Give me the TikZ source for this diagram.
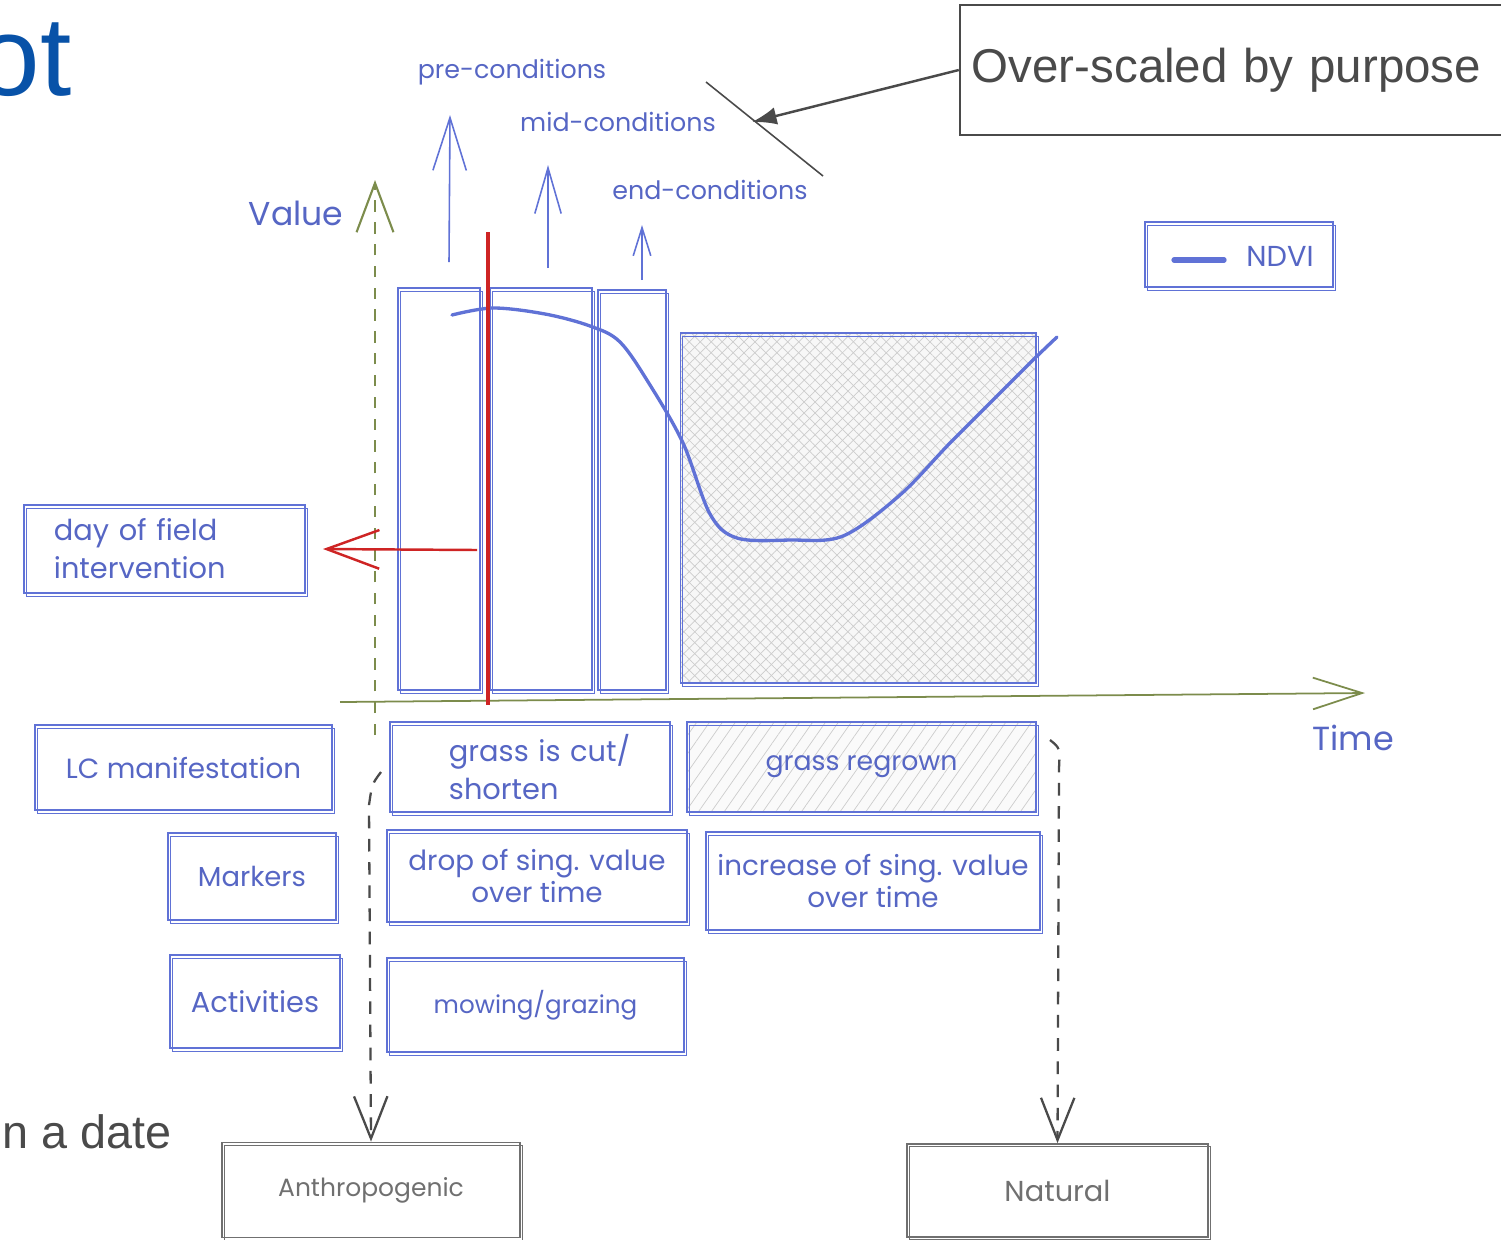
\documentclass[tikz,border=0pt]{standalone}
\usepackage{fontspec}
\newfontfamily\slidefont{Liberation Sans}
\newfontfamily\sketchfont{Poppins}
\usetikzlibrary{arrows.meta,patterns.meta,positioning}
\definecolor{skblue}{RGB}{96,114,214}
\definecolor{txblue}{RGB}{86,102,196}
\definecolor{axgreen}{RGB}{124,140,76}
\definecolor{cutred}{RGB}{206,36,36}
\definecolor{slideblue}{RGB}{8,82,168}
\definecolor{slidegray}{RGB}{74,74,74}
\definecolor{pencil}{RGB}{112,112,112}
\newcommand\handpt[1]{\sketchfont\fontsize{#1}{#1}\selectfont}
\tikzset{
  sk/.style={draw=skblue, line width=0.5pt,
    postaction={draw=skblue, line width=0.3pt, transform canvas={shift={(0.7pt,-0.9pt)}}}},
  grey/.style={draw=pencil, line width=0.5pt,
    postaction={draw=pencil, line width=0.3pt, transform canvas={shift={(0.6pt,-0.8pt)}}}},
  box/.style 2 args={minimum width=#1cm, minimum height=#2cm, inner sep=0pt},
  hand/.style={text=txblue, font=\sketchfont\fontsize{8.2}{10.8}\selectfont, align=center, inner sep=0pt},
  cross/.style={preaction={fill=gray!6},
    preaction={pattern={Lines[angle=45,distance=2.2pt,line width=0.2pt]}, pattern color=gray!40},
    preaction={pattern={Lines[angle=-45,distance=2.2pt,line width=0.2pt]}, pattern color=gray!40}},
  hatch/.style={preaction={fill=gray!4},
    preaction={pattern={Lines[angle=55,distance=3pt,line width=0.2pt]}, pattern color=gray!40}},
  axis/.style={draw=axgreen, line width=0.5pt},
  up/.style={draw=skblue, line width=0.45pt},
  down/.style={draw=slidegray, line width=0.65pt, dash pattern=on 3.6pt off 3pt,
    -{Straight Barb[length=12pt,width=9.5pt]}},
}
\begin{document}
\begin{tikzpicture}[x=0.01cm,y=-0.01cm]
\useasboundingbox (0,0) rectangle (1501,1239);

% slide fragments
\node[text=slideblue, font=\slidefont\fontsize{32}{32}\selectfont, anchor=base east, inner sep=0pt] (ttl) at (72,95) {ot};
\node[text=slidegray, font=\slidefont\fontsize{13.3}{14}\selectfont, anchor=base west, inner sep=0pt] (dt) at (2,1148) {n a date};
\node[draw=slidegray, line width=0.6pt, minimum width=5.42cm, minimum height=1.3cm, text width=5.18cm, inner xsep=0.12cm, align=left,
  text=slidegray, font=\slidefont\fontsize{13.5}{16}\selectfont] (ovr) at (1231,70) {Over-scaled by purpose};
\coordinate (ovrtip) at (752,122);
\draw[slidegray, line width=0.7pt, -{Latex[length=7pt,width=5pt]}] (ovr.west) -- (ovrtip);
\draw[slidegray, line width=0.45pt] (706,82) -- (823,176);

% axes
\draw[axis, line width=0.6pt, dash pattern=on 3.2pt off 3pt, -{Straight Barb[length=14pt,width=10.5pt]}] (375,735) -- (375,180);
\draw[axis, -{Straight Barb[length=14pt,width=9pt]}] (340,702) -- (1365,693);
\node[hand, font=\handpt{9.4}] (val) at (296,213) {Value};
\node[hand, font=\handpt{9.5}] (tim) at (1353,738) {Time};

% phases
\node[sk, box={0.82}{4.02}] (pre) at (439,489) {};
\node[sk, box={1.02}{4.02}] (mid) at (541,489) {};
\node[sk, box={0.68}{4.00}] (endc) at (632,490) {};
\node[sk, cross, box={3.55}{3.50}] (regrow) at (858,508) {};

\node[hand, font=\handpt{7.2}] (prelbl) at (512,72) {pre-conditions};
\node[hand, font=\handpt{7.2}] (midlbl) at (618,122) {mid-conditions};
\node[hand, font=\handpt{7.2}] (endlbl) at (710,190) {end-conditions};
\coordinate (preA) at (449,262); \coordinate (preB) at (450,115);
\coordinate (midA) at (548,268); \coordinate (midB) at (548,165);
\coordinate (endA) at (642,280); \coordinate (endB) at (642,225);
\draw[up, -{Straight Barb[length=15pt,width=9.5pt]}] (preA) -- (preB);
\draw[up, -{Straight Barb[length=13pt,width=7.5pt]}] (midA) -- (midB);
\draw[up, -{Straight Barb[length=8pt,width=5pt]}] (endA) -- (endB);

% NDVI
\draw[skblue, line width=0.95pt, line cap=round] plot[smooth, tension=0.55] coordinates {
  (452,315) (493,308) (545,314) (590,326) (620,342) (650,385) (683,443) (710,514)
  (737,538) (790,540) (843,536) (900,495) (950,443) (1000,393) (1033,360) (1057,337)};

% field intervention
\coordinate (cutT) at (488,232); \coordinate (cutB) at (488,705);
\draw[cutred, line width=1.3pt] (cutT) -- (cutB);
\node[sk, box={2.81}{0.88}, hand, text width=2.21cm, align=left] (day) at (164.5,549) {day of field\\intervention};
\coordinate (dayA) at (477,550);
\draw[cutred, line width=0.7pt, -{Straight Barb[length=15pt,width=11pt]}] (dayA) -- ([xshift=0.17cm]day.east);

% legend
\node[sk, box={1.88}{0.65}] (lgd) at (1239,254.5) {};
\draw[skblue, line width=1.5pt, line cap=round] (1174,260) -- (1224,260);
\node[hand] (ndvi) at (1280,256) {NDVI};

% rows
\node[sk, box={2.97}{0.85}, hand, font=\handpt{7.9}] (lc) at (183.5,767.5) {LC manifestation};
\node[sk, box={2.80}{0.90}, hand, align=left, text width=2.2cm] (cut) at (530,767) {\hspace*{0.29cm}grass is cut/\\\hspace*{0.29cm}shorten};
\node[sk, hatch, box={3.49}{0.90}, hand, font=\handpt{7.6}] (grow) at (861.5,767) {grass regrown};
\node[sk, box={1.68}{0.87}, hand, font=\handpt{7.8}] (mrk) at (252,876.5) {Markers};
\node[sk, box={3.00}{0.92}, hand, font=\handpt{7.9}] (drop) at (537,876) {drop of sing. value\\over time};
\node[sk, box={3.34}{0.98}, hand, font=\handpt{7.9}] (incr) at (873,881) {increase of sing. value\\over time};
\node[sk, box={1.70}{0.93}, hand] (act) at (255,1001.5) {Activities};
\node[sk, box={2.97}{0.94}, hand, font=\handpt{7}] (mow) at (535.5,1005) {mowing/grazing};

% causes
\node[grey, box={2.98}{0.95}, hand, text=pencil, font=\handpt{7.1}] (anth) at (371,1190) {Anthropogenic};
\node[grey, box={3.01}{0.93}, hand, text=pencil] (nat) at (1057.5,1190.5) {Natural};
\coordinate (anthS) at (381,772);
\coordinate (natS) at (1050,740);
\draw[down] (anthS) .. controls (372,784) .. (369,805) -- (anth.north);
\draw[down] (natS) .. controls (1060,748) .. (1059,768) -- (nat.north);
\end{tikzpicture}
\end{document}
